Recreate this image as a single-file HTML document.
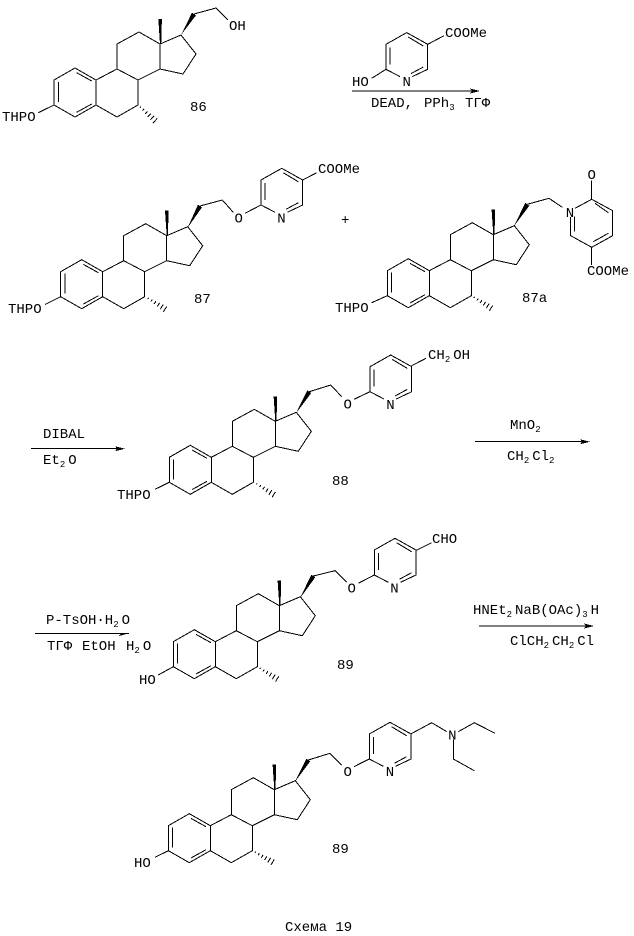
<!DOCTYPE html>
<html lang="ru"><head><meta charset="utf-8"><title>Схема 19</title>
<style>
html,body{margin:0;padding:0;background:#fff}
svg{display:block}
text{font-family:"Liberation Mono",monospace;font-size:14px;letter-spacing:0;fill:#000}
.s{font-size:9px;letter-spacing:3px}
.m{text-anchor:middle}
.l{fill:none;stroke:#000;stroke-width:1;shape-rendering:crispEdges}
polygon{shape-rendering:crispEdges}
</style></head><body>
<svg xmlns="http://www.w3.org/2000/svg" width="634" height="936" viewBox="0 0 634 936">
<defs>
<g id="st">
<path class="l" d="M54 105V80L75 68L96 80V105L75 117ZM96 80L117 69L138 80V105L117 117L96 105M117 69V44L139 32L160 44V69L138 80M160 69L183 74L196 54L181 35L160 44M58.3 82V102M76.7 72.7L91.7 81M76.7 112.3L91.7 104"/>
<polygon points="160,44 158.3,19 161.9,19 161.2,44"/>
</g>
<path id="py" class="l" d="M14 7.3L0 0V-25L20.7-36.7L41.7-25V0L26.3 7.3M4-22V-5M22.3-32.3L37.3-23.3M25 4.3L37.3-2.3"/>
<path id="ha" class="l" d="M3-.7V.7M7-1.2V1.2M11-1.7V1.7M15-2.2V2.2M19-2.7V2.7M23-3.2V3.2"/>
</defs>

<!-- 86 -->
<use href="#st"/>
<path class="l" d="M54 105L38.3 112.7M194 14L216 8L228 20"/>
<polygon points="181,35 192,12.7 196,15.3"/>
<use href="#ha" transform="translate(138.3,105) rotate(43)"/>
<text x="2" y="121">THPO</text><text x="229" y="30">OH</text><text x="190" y="111">86</text>

<!-- reagent top -->
<use href="#py" transform="translate(386,69.3)"/>
<path class="l" d="M427.7 44.3L444 35.7M386 69.3L371.7 78.3M352 91H478"/>
<polygon points="480,91 470,88.5 472,91 470,93.5"/>
<text x="445" y="37">COOMe</text><text x="352" y="86">HO</text><text class="m" x="406.7" y="86">N</text>
<text x="371" y="107">DEAD,</text><text x="424" y="107">PPh<tspan class="s" dy="3">3</tspan></text><text x="465" y="107">ТГФ</text>

<!-- 87 -->
<use href="#st" transform="translate(6.7,191.7)"/>
<path class="l" d="M60.7 296.7L45 304.5M200 206L222.3 200L233.3 212.3M245 213.3L261 205M302.7 180L316.7 172.7"/>
<polygon points="187.3,228.3 198,204.7 202,207.3"/>
<use href="#ha" transform="translate(145.7,296.7) rotate(32.5)"/>
<use href="#py" transform="translate(261,205)"/>
<text x="8" y="313">THPO</text><text class="m" x="238.7" y="222.5">O</text><text class="m" x="281.5" y="222.5">N</text>
<text x="318" y="173">COOMe</text><text x="194" y="303">87</text>
<text x="341" y="224">+</text>

<!-- 87a -->
<use href="#st" transform="translate(333.3,190.7)"/>
<path class="l" d="M387.3 295.7L371.7 302.7M527.3 204.3L549 198.3L562.3 207.3M575 208.3L591.7 199.3L612.7 210.7V235.7L591.7 247.3L570.7 235.7V217M574.3 216.7V231.7M595 203.3L608.3 212.7M608.3 233.3L593.3 241.7M591.7 199.3V180.5M591.7 247.3V265"/>
<polygon points="513.7,226.7 525.3,202.9 529.3,205.7"/>
<use href="#ha" transform="translate(471.7,295.7) rotate(32.5)"/>
<text x="335" y="312">THPO</text><text class="m" x="570" y="217">N</text><text class="m" x="591.7" y="179">O</text>
<text x="587" y="275">COOMe</text><text x="522" y="302">87a</text>

<!-- DIBAL -->
<path class="l" d="M31 448.7H123"/>
<polygon points="125,448.7 115,446.2 117,448.7 115,451.2"/>
<text x="43" y="438">DIBAL</text><text x="43" y="464">Et<tspan class="s" dy="3">2</tspan><tspan dy="-3">O</tspan></text>

<!-- 88 -->
<use href="#st" transform="translate(115.3,377.3)"/>
<path class="l" d="M169.3 482.3L155 489.3M309.3 391.7L330.7 385L341.7 396.7M354 399.3L370 391.7M411.7 365.7L426 358.3"/>
<polygon points="296,413.3 307.3,390.4 311.3,393"/>
<use href="#ha" transform="translate(254.3,482.3) rotate(32.5)"/>
<use href="#py" transform="translate(370,391.7)"/>
<text x="117" y="499">THPO</text><text class="m" x="347.7" y="408.5">O</text><text class="m" x="390.5" y="409">N</text>
<text x="428" y="359">CH<tspan class="s" dy="3">2</tspan><tspan dy="-3">OH</tspan></text><text x="332" y="485">88</text>

<!-- MnO2 -->
<path class="l" d="M475 441.7H588"/>
<polygon points="590,441.7 580,439.2 582,441.7 580,444.2"/>
<text x="510" y="429">MnO<tspan class="s" dy="3">2</tspan></text>
<text x="507" y="460">CH<tspan class="s" dy="3">2</tspan><tspan dy="-3">Cl</tspan><tspan class="s" dy="3">2</tspan></text>

<!-- P-TsOH -->
<path class="l" d="M35 633.3H129"/>
<polygon points="129,633.3 119,636 121,633.3"/>
<text x="46" y="624">P-TsOH·H<tspan class="s" dy="3">2</tspan><tspan dy="-3">O</tspan></text>
<text x="47" y="650">ТГФ</text><text x="82" y="650">EtOH</text><text x="126" y="650">H<tspan class="s" dy="3">2</tspan><tspan dy="-3">O</tspan></text>

<!-- 89 middle -->
<use href="#st" transform="translate(119.3,561.7)"/>
<path class="l" d="M173.3 666.7L158.3 675M313.3 576L335 570.7L346.7 582.3M358.3 583.3L374.3 575M415.7 550.7L431.7 542.7"/>
<polygon points="300,598.3 311.3,574.7 315.3,577.3"/>
<use href="#ha" transform="translate(257.7,666.7) rotate(32)"/>
<use href="#py" transform="translate(374.3,575)"/>
<text x="139" y="684">HO</text><text class="m" x="351.7" y="592.5">O</text><text class="m" x="394.5" y="592.5">N</text>
<text x="432" y="543">CHO</text><text x="337" y="669">89</text>

<!-- HNEt2 -->
<path class="l" d="M479 626H592"/>
<polygon points="594,626 584,623.5 586,626 584,628.5"/>
<text x="473" y="614">HNEt<tspan class="s" dy="3">2</tspan><tspan dy="-3">NaB(OAc)</tspan><tspan class="s" dy="3">3</tspan><tspan dy="-3">H</tspan></text>
<text x="510" y="645">ClCH<tspan class="s" dy="3">2</tspan><tspan dy="-3">CH</tspan><tspan class="s" dy="3">2</tspan><tspan dy="-3">Cl</tspan></text>

<!-- 89 last -->
<use href="#st" transform="translate(114.3,745.7)"/>
<path class="l" d="M168.3 850.7L155 857.3M308.3 760L330 753.3L341.7 765M354 766.7L369.3 759M410.7 734L431.7 722.7L446.7 731.7M458.3 731.7L474.3 722.7L495 733.3M453.3 739.3V759L474.3 770.7"/>
<polygon points="295,781.7 306.3,758.7 310.3,761.3"/>
<use href="#ha" transform="translate(252.7,850.7) rotate(30)"/>
<use href="#py" transform="translate(369.3,759)"/>
<text x="134" y="867">HO</text><text class="m" x="347.7" y="776">O</text><text class="m" x="390" y="776">N</text><text class="m" x="452.3" y="739.5">N</text>
<text x="332" y="853">89</text>

<text x="285" y="931">Схема 19</text>
</svg>
</body></html>
